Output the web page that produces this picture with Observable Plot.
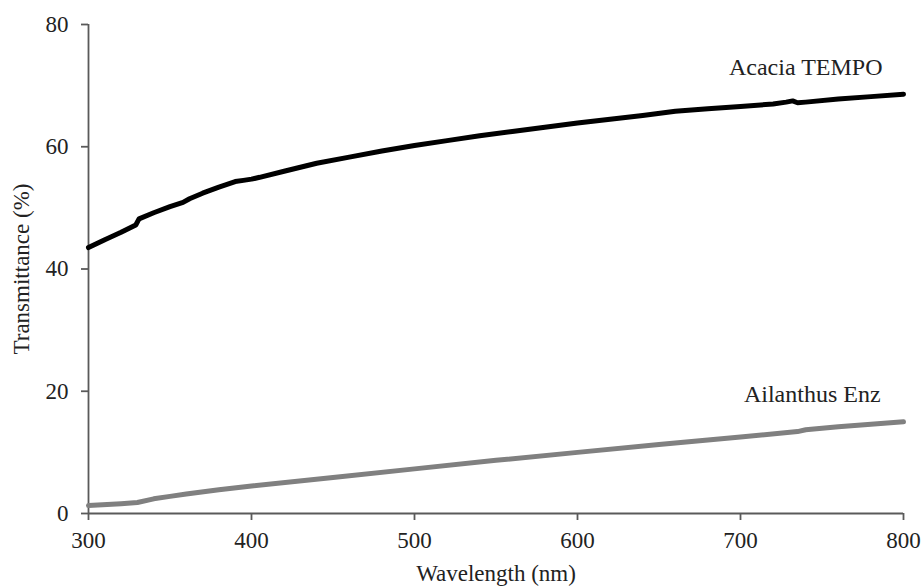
<!DOCTYPE html>
<html>
<head>
<meta charset="utf-8">
<script src="https://cdn.jsdelivr.net/npm/d3@7"></script>
<script src="https://cdn.jsdelivr.net/npm/@observablehq/plot@0.6"></script>
<style>
  html, body { margin: 0; padding: 0; background: #fff; }
  svg { display: block; }
</style>
</head>
<body>
<div id="chart"></div>
<script>
// Data
const acaciaWavelength = [300, 310, 320, 329, 331, 340, 350, 358, 362, 370, 380, 390, 395, 400, 405, 420, 440, 460, 480, 500, 520, 540, 560, 580, 600, 620, 640, 660, 680, 700, 720, 728, 732, 735, 740, 760, 780, 800];
const acaciaValues     = [43.5, 44.8, 46.0, 47.2, 48.2, 49.2, 50.2, 50.9, 51.5, 52.4, 53.4, 54.3, 54.5, 54.7, 55.0, 56.0, 57.3, 58.3, 59.3, 60.2, 61.0, 61.8, 62.5, 63.2, 63.9, 64.5, 65.1, 65.8, 66.2, 66.6, 67.0, 67.3, 67.5, 67.2, 67.3, 67.8, 68.2, 68.6];

const ailanthusWavelength = [300, 320, 330, 340, 350, 360, 380, 400, 450, 500, 550, 600, 650, 700, 735, 740, 760, 780, 800];
const ailanthusValues     = [1.3, 1.6, 1.8, 2.4, 2.8, 3.2, 3.9, 4.5, 5.9, 7.3, 8.7, 10.0, 11.3, 12.5, 13.4, 13.7, 14.2, 14.6, 15.0];

const seriesNames = ["Acacia TEMPO", "Ailanthus Enz"];
const labelWavelength = [740, 744];
const labelValue = [71.7, 18.2];

const xTicks = [300, 400, 500, 600, 700, 800];
const yTicks = [0, 20, 40, 60, 80];

const acacia = acaciaWavelength.map((w, i) => ({w, v: acaciaValues[i]}));
const ailanthus = ailanthusWavelength.map((w, i) => ({w, v: ailanthusValues[i]}));
const labels = seriesNames.map((name, i) => ({name, w: labelWavelength[i], v: labelValue[i]}));

const axisColor = "#5a5a5a";
const textColor = "#222";

const chart = Plot.plot({
  width: 922,
  height: 587,
  marginLeft: 88,
  marginRight: 19,
  marginTop: 24,
  marginBottom: 74,
  style: {fontFamily: "'Liberation Serif', 'Times New Roman', serif", fontSize: "23px", color: textColor, background: "#fff"},
  x: {domain: [300, 800]},
  y: {domain: [0, 80]},
  marks: [
    Plot.ruleX([300], {stroke: axisColor, strokeWidth: 1.8}),
    Plot.ruleY([0], {stroke: axisColor, strokeWidth: 1.8}),
    Plot.axisX({ticks: xTicks, tickSize: 7, tickPadding: 11, stroke: axisColor, strokeWidth: 1.8, fontSize: 23, fill: textColor,
      label: "Wavelength (nm)", labelAnchor: "center", labelArrow: "none", labelOffset: 67}),
    Plot.axisY({ticks: yTicks, tickSize: 7, tickPadding: 13, stroke: axisColor, strokeWidth: 1.8, fontSize: 23, fill: textColor,
      label: "Transmittance (%)", labelAnchor: "center", labelArrow: "none", labelOffset: 76}),
    Plot.line(ailanthus, {x: "w", y: "v", stroke: "#808080", strokeWidth: 5, curve: "linear"}),
    Plot.line(acacia, {x: "w", y: "v", stroke: "#000", strokeWidth: 5, curve: "linear"}),
    Plot.text(labels, {x: "w", y: "v", text: "name", fontSize: 24, fill: textColor, lineAnchor: "bottom"})
  ]
});
document.getElementById("chart").appendChild(chart);
</script>
</body>
</html>
